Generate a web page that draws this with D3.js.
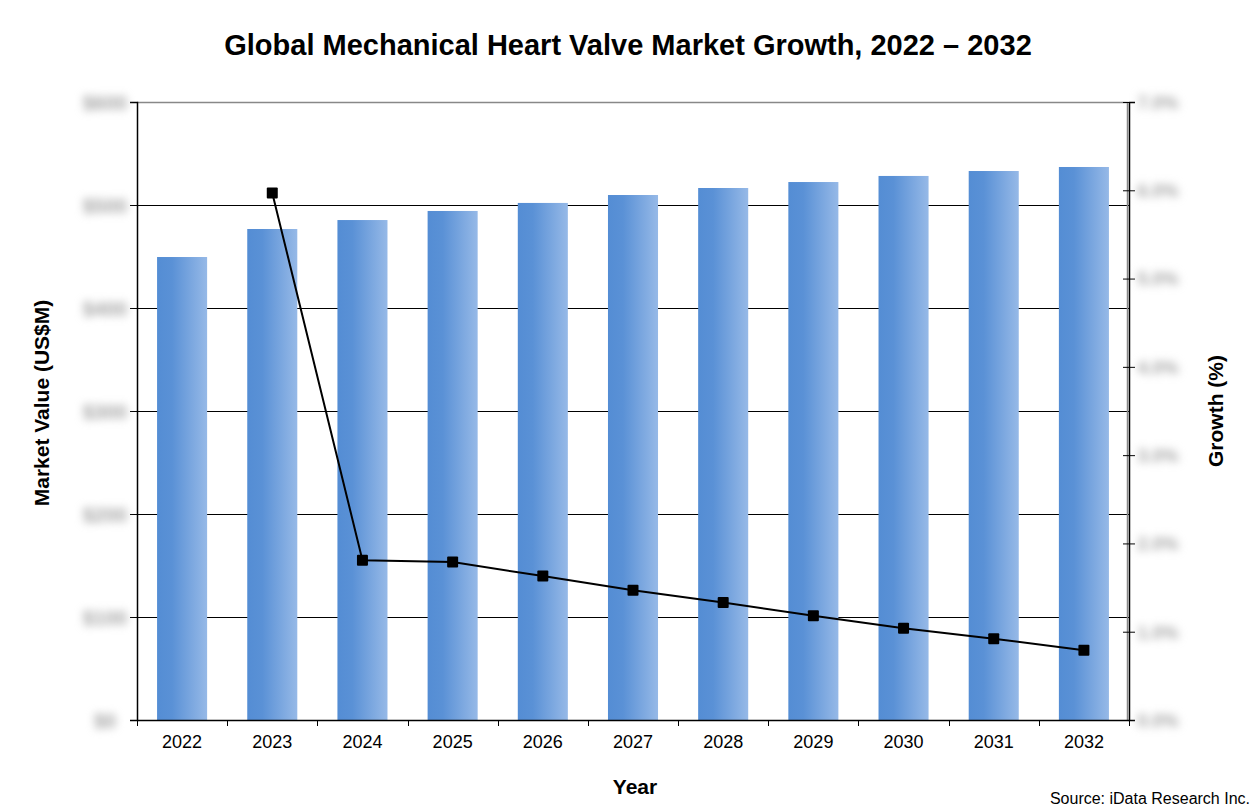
<!DOCTYPE html>
<html>
<head>
<meta charset="utf-8">
<script src="https://cdn.jsdelivr.net/npm/d3@7"></script>
<style>
  body { margin: 0; background: #fff; }
  text { font-family: "Liberation Sans", Arial, sans-serif; }
</style>
</head>
<body>
<div id="chart"></div>
<script>
// data
var years = ["2022", "2023", "2024", "2025", "2026", "2027", "2028", "2029", "2030", "2031", "2032"];
var marketValue = [449.5, 476.7, 485.4, 494.2, 502, 509.7, 516.5, 522.3, 528.2, 533, 536.9];
var growth = [null, 5.97, 1.81, 1.79, 1.63, 1.47, 1.33, 1.18, 1.04, 0.92, 0.79];
var leftTicks = [0, 100, 200, 300, 400, 500, 600];
var rightTicks = [0, 1, 2, 3, 4, 5, 6, 7];

var width = 1256, height = 810;
var plotLeft = 137, plotRight = 1129, plotTop = 102, plotBottom = 720;

var svg = d3.select("#chart").append("svg")
    .attr("width", width)
    .attr("height", height);

var defs = svg.append("defs");
var grad = defs.append("linearGradient")
    .attr("id", "barGrad")
    .attr("x1", "0%").attr("x2", "100%")
    .attr("y1", "0%").attr("y2", "0%");
grad.append("stop").attr("offset", "0%").attr("stop-color", "#548dd4");
grad.append("stop").attr("offset", "30%").attr("stop-color", "#5a91d6");
grad.append("stop").attr("offset", "100%").attr("stop-color", "#96b9e7");

var x = d3.scaleBand()
    .domain(years)
    .range([plotLeft, plotRight])
    .paddingInner(0.445)
    .paddingOuter(0.2225);
var xb = d3.scaleBand().domain(years).range([plotLeft, plotRight]);

var y = d3.scaleLinear().domain([0, 600]).range([plotBottom, plotTop]);
var y2 = d3.scaleLinear().domain([0, 7]).range([plotBottom, plotTop]);

// gridlines
svg.append("g")
    .selectAll("line")
    .data(leftTicks.slice(1, -1))
    .enter()
    .append("line")
    .attr("x1", plotLeft).attr("x2", plotRight)
    .attr("y1", d => Math.round(y(d)) + 0.5).attr("y2", d => Math.round(y(d)) + 0.5)
    .attr("stroke", "#000")
    .attr("stroke-width", 1);

// frame top and right (grey)
svg.append("path")
    .attr("d", "M" + plotLeft + "," + (plotTop + 0.5) + "H" + (plotRight - 1.5) + "V" + plotBottom)
    .attr("fill", "none")
    .attr("stroke", "#888")
    .attr("stroke-width", 1.5);

// bars
svg.append("g")
    .selectAll("rect")
    .data(marketValue)
    .enter()
    .append("rect")
    .attr("x", (d, i) => x(years[i]))
    .attr("y", d => y(d))
    .attr("width", x.bandwidth())
    .attr("height", d => plotBottom - y(d))
    .attr("fill", "url(#barGrad)");

// left axis (values are blurred out in the source)
var yAxis = d3.axisLeft(y).tickValues(leftTicks).tickSize(7).tickFormat(d => "$" + d);
var gy = svg.append("g")
    .attr("transform", "translate(" + plotLeft + ",0)")
    .call(yAxis);
gy.select(".domain").attr("stroke-width", 1.5);
gy.selectAll("text")
    .attr("x", -32)
    .attr("dy", "0.35em")
    .style("text-anchor", "middle")
    .style("font-size", "20px")
    .style("font-weight", "bold")
    .attr("fill", "#a4a4a4")
    .style("filter", "blur(4.5px)");

// right axis
var yAxis2 = d3.axisRight(y2).tickValues(rightTicks).tickSize(6).tickFormat(d => d + ".0%");
var gy2 = svg.append("g")
    .attr("transform", "translate(" + plotRight + ",0)")
    .call(yAxis2);
gy2.select(".domain").attr("stroke-width", 1.5);
gy2.selectAll(".tick line").attr("x1", -6);
gy2.selectAll("text")
    .attr("x", 29)
    .attr("dy", "0.35em")
    .style("text-anchor", "middle")
    .style("font-size", "18px")
    .style("font-weight", "bold")
    .attr("fill", "#a4a4a4")
    .style("filter", "blur(4.5px)");

// bottom axis
var gx = svg.append("g")
    .attr("transform", "translate(0," + plotBottom + ")")
    .call(d3.axisBottom(xb).tickSize(0).tickPadding(15));
gx.select(".domain").attr("stroke-width", 1.5);
gx.selectAll("text")
    .style("font-size", "18px")
    .attr("fill", "#000");
// ticks between categories
gx.selectAll(".sep")
    .data(years.concat(["end"]))
    .enter()
    .append("line")
    .attr("x1", (d, i) => Math.round(plotLeft + i * xb.bandwidth()) + 0.5)
    .attr("x2", (d, i) => Math.round(plotLeft + i * xb.bandwidth()) + 0.5)
    .attr("y1", 0).attr("y2", 6)
    .attr("stroke", "#000");

// growth line
var line = d3.line()
    .defined(d => d != null)
    .x((d, i) => xb(years[i]) + xb.bandwidth() / 2)
    .y(d => y2(d));
svg.append("path")
    .datum(growth)
    .attr("d", line)
    .attr("fill", "none")
    .attr("stroke", "#000")
    .attr("stroke-width", 2);

// square markers
var pts = growth.map((d, i) => ({ v: d, yr: years[i] })).filter(d => d.v != null);
svg.append("g")
    .selectAll("rect")
    .data(pts)
    .enter()
    .append("rect")
    .attr("x", d => xb(d.yr) + xb.bandwidth() / 2 - 5.5)
    .attr("y", d => y2(d.v) - 5.5)
    .attr("width", 11).attr("height", 11)
    .attr("rx", 1)
    .attr("fill", "#000");

// title and axis names
svg.append("text")
    .attr("x", 628).attr("y", 55)
    .style("text-anchor", "middle")
    .style("font-size", "29px")
    .style("font-weight", "bold")
    .text("Global Mechanical Heart Valve Market Growth, 2022 \u2013 2032");

svg.append("text")
    .attr("transform", "translate(49,403) rotate(-90)")
    .style("text-anchor", "middle")
    .style("font-size", "21px")
    .style("font-weight", "bold")
    .text("Market Value (US$M)");

svg.append("text")
    .attr("transform", "translate(1223,411) rotate(-90)")
    .style("text-anchor", "middle")
    .style("font-size", "21px")
    .style("font-weight", "bold")
    .text("Growth (%)");

svg.append("text")
    .attr("x", 635).attr("y", 794)
    .style("text-anchor", "middle")
    .style("font-size", "21px")
    .style("font-weight", "bold")
    .text("Year");

svg.append("text")
    .attr("x", 1250).attr("y", 804)
    .style("text-anchor", "end")
    .style("font-size", "16px")
    .text("Source: iData Research Inc.");
</script>
</body>
</html>
